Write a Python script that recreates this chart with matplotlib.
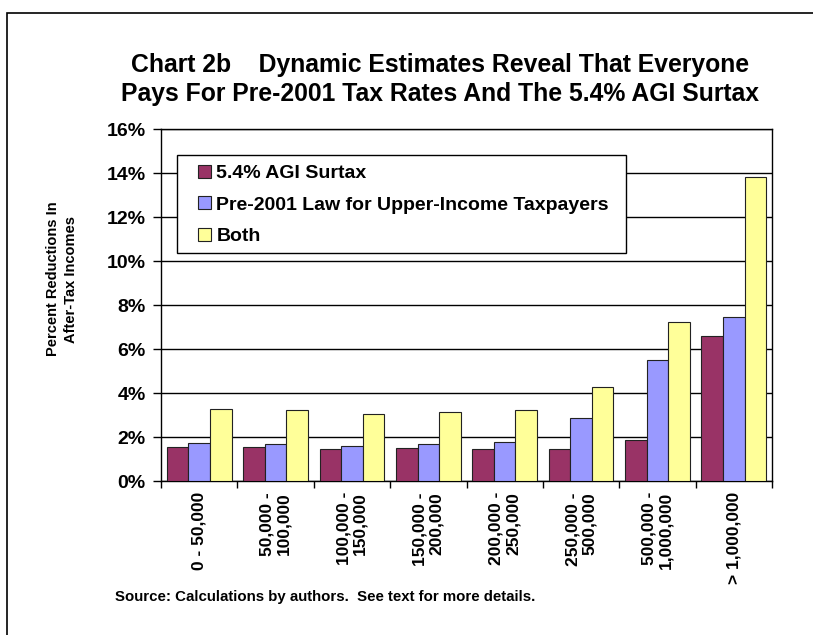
import matplotlib
matplotlib.use("Agg")
import matplotlib.pyplot as plt
import numpy as np
from matplotlib.patches import Rectangle

plt.rcParams['font.family'] = ['Liberation Sans', 'DejaVu Sans']
plt.rcParams['font.weight'] = 'bold'

categories = ["0 - 50,000", "50,000 -\n100,000", "100,000 -\n150,000", "150,000 -\n200,000",
              "200,000 -\n250,000", "250,000 -\n500,000", "500,000 -\n1,000,000", "> 1,000,000"]
series_names = ["5.4% AGI Surtax", "Pre-2001 Law for Upper-Income Taxpayers", "Both"]
surtax = [1.56, 1.54, 1.45, 1.48, 1.44, 1.47, 1.87, 6.60]
pre2001 = [1.74, 1.70, 1.59, 1.68, 1.79, 2.88, 5.50, 7.46]
both = [3.29, 3.22, 3.04, 3.13, 3.22, 4.28, 7.23, 13.83]
yticks = [0, 2, 4, 6, 8, 10, 12, 14, 16]
colors = ["#993366", "#9999FF", "#FFFF99"]

W, H = 813, 635
fig = plt.figure(figsize=(W / 100, H / 100), dpi=100)

# outer page frame (right and bottom edges run off the canvas)
fig.patches.append(Rectangle((7 / W, -0.05), 1.1, 1 - 13 / H + 0.05,
                             transform=fig.transFigure, fill=False,
                             edgecolor="black", linewidth=1.2))

ax = fig.add_axes([161 / W, 1 - 481 / H, 611 / W, 352 / H])
x = np.arange(len(categories))
w = 0.283
for i, (vals, name) in enumerate(zip([surtax, pre2001, both], series_names)):
    ax.bar(x + (i - 1) * w, vals, width=w, color=colors[i], edgecolor="#222222",
           linewidth=0.8, label=name, zorder=3)

ax.set_xlim(-0.5, len(categories) - 0.5)
ax.set_ylim(0, 16)
ax.set_yticks(yticks)
ax.set_yticklabels([f"{v}%" for v in yticks], fontsize=14, fontweight="bold")
ax.yaxis.grid(True, color="black", linewidth=1, zorder=0)
ax.tick_params(axis="y", direction="out", length=6, width=1, pad=5)

ax.set_xticks(x)
ax.set_xticklabels(categories, rotation=90, va="top", ha="center",
                   multialignment="right", fontsize=12.5, fontweight="bold",
                   linespacing=1.15)
ax.tick_params(axis="x", which="major", length=0, pad=8)
ax.set_xticks(np.arange(len(categories) + 1) - 0.5, minor=True)
ax.tick_params(axis="x", which="minor", direction="out", length=5, width=1)

for s in ax.spines.values():
    s.set_color("black")
    s.set_linewidth(1)

fig.text(62 / W, 1 - 279 / H, "Percent Reductions In\nAfter-Tax Incomes",
         rotation=90, ha="center", va="center", fontsize=10.5,
         fontweight="bold", linespacing=1.35)

leg = ax.legend(loc="upper left", bbox_to_anchor=((198 - 161) / 611, (481 - 165) / 352),
                fontsize=14, frameon=False,
                handlelength=0.65, handleheight=0.65, handletextpad=0.3,
                labelspacing=0.72, borderpad=0, borderaxespad=0)
for t in leg.get_texts():
    t.set_fontweight("bold")
for h in leg.legend_handles:
    h.set_edgecolor("#222222")
    h.set_linewidth(0.8)
leg.set_zorder(6)

# legend box with wider side margins than the library frame allows
fig.canvas.draw()
bb = leg.get_window_extent()
ax.add_patch(Rectangle((bb.x0 - 21, bb.y0 - 8), bb.width + 38, bb.height + 18,
                       transform=None, facecolor="white", edgecolor="black",
                       linewidth=1, zorder=5, clip_on=False))

fig.text(440 / W, 1 - 65 / H, "Chart 2b    Dynamic Estimates Reveal That Everyone",
         ha="center", va="center", fontsize=17.8, fontweight="bold")
fig.text(440 / W, 1 - 94 / H, "Pays For Pre-2001 Tax Rates And The 5.4% AGI Surtax",
         ha="center", va="center", fontsize=17.8, fontweight="bold")

fig.text(115 / W, 1 - 597 / H,
         "Source: Calculations by authors.  See text for more details.",
         ha="left", va="center", fontsize=10.8, fontweight="bold")

fig.savefig("out.png", dpi=100)
